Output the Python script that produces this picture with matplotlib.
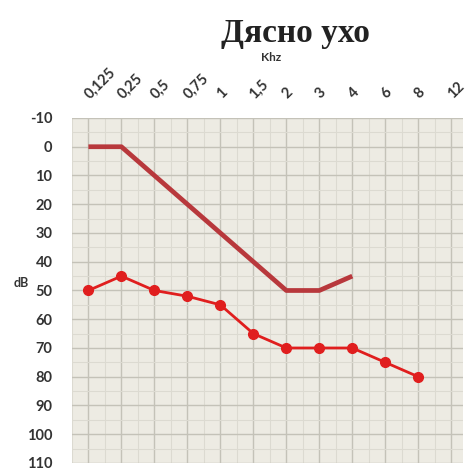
import matplotlib
matplotlib.use("Agg")
import matplotlib.pyplot as plt
import matplotlib.transforms as mtransforms
from matplotlib.ticker import MultipleLocator

freqs = ["0,125", "0,25", "0,5", "0,75", "1", "1,5", "2", "3", "4", "6", "8", "12"]
upper_line = [0, 0, 10, 20, 30, 40, 50, 50, 45]
lower_line = [50, 45, 50, 52, 55, 65, 70, 70, 70, 75, 80]
y_ticks = list(range(-10, 111, 10))

fig = plt.figure(figsize=(4.67, 4.71), dpi=100)
ax = fig.add_axes([0.154, 0.017, 0.837, 0.7325])
ax.set_facecolor("#edebe3")

x_all = list(range(len(freqs)))
ax.plot(x_all[:len(upper_line)], upper_line, color="#b8383c", lw=3.4, solid_capstyle="butt", zorder=3)
ax.plot(x_all[:len(lower_line)], lower_line, color="#e01e1e", lw=2.0, marker="o", ms=7, zorder=4)

ax.set_xlim(-0.5, 11.35)
ax.set_ylim(110, -10)
ax.xaxis.tick_top()
ax.set_xticks(x_all)
ax.set_xticklabels(freqs, rotation=45, ha="left", va="bottom", fontsize=10.5,
                   family="Lato", fontweight="bold", color="#333333", rotation_mode="anchor")
ax.set_yticks(y_ticks)
ax.set_yticklabels([str(v) for v in y_ticks], fontsize=10.5, family="Lato", fontweight="bold", color="#333333")
ax.xaxis.set_minor_locator(MultipleLocator(0.5))
ax.yaxis.set_minor_locator(MultipleLocator(5))
ax.tick_params(which="both", length=0)
ax.tick_params(axis="x", pad=12)
ax.tick_params(axis="y", pad=14)
ax.grid(which="major", color="#c4c2b8", lw=1.0)
ax.grid(which="minor", color="#dcdad1", lw=0.8)
ax.set_axisbelow(True)
for s in ax.spines.values():
    s.set_visible(False)

offset = mtransforms.ScaledTranslation(2.5 / 72, 0, fig.dpi_scale_trans)
for tick in ax.xaxis.get_major_ticks():
    for lab in (tick.label1, tick.label2):
        lab.set_transform(lab.get_transform() + offset)

fig.text(0.632, 0.929, "Дясно ухо", ha="center", va="center", fontsize=24,
         family="Liberation Serif", fontweight="bold", color="#222222")
fig.text(0.58, 0.877, "Khz", ha="center", va="center", fontsize=8.5,
         family="Lato", fontweight="bold", color="#333333")
fig.text(0.045, 0.40, "dB", ha="center", va="center", fontsize=9,
         family="Lato", fontweight="bold", color="#333333")

fig.savefig("out.png", dpi=100)
